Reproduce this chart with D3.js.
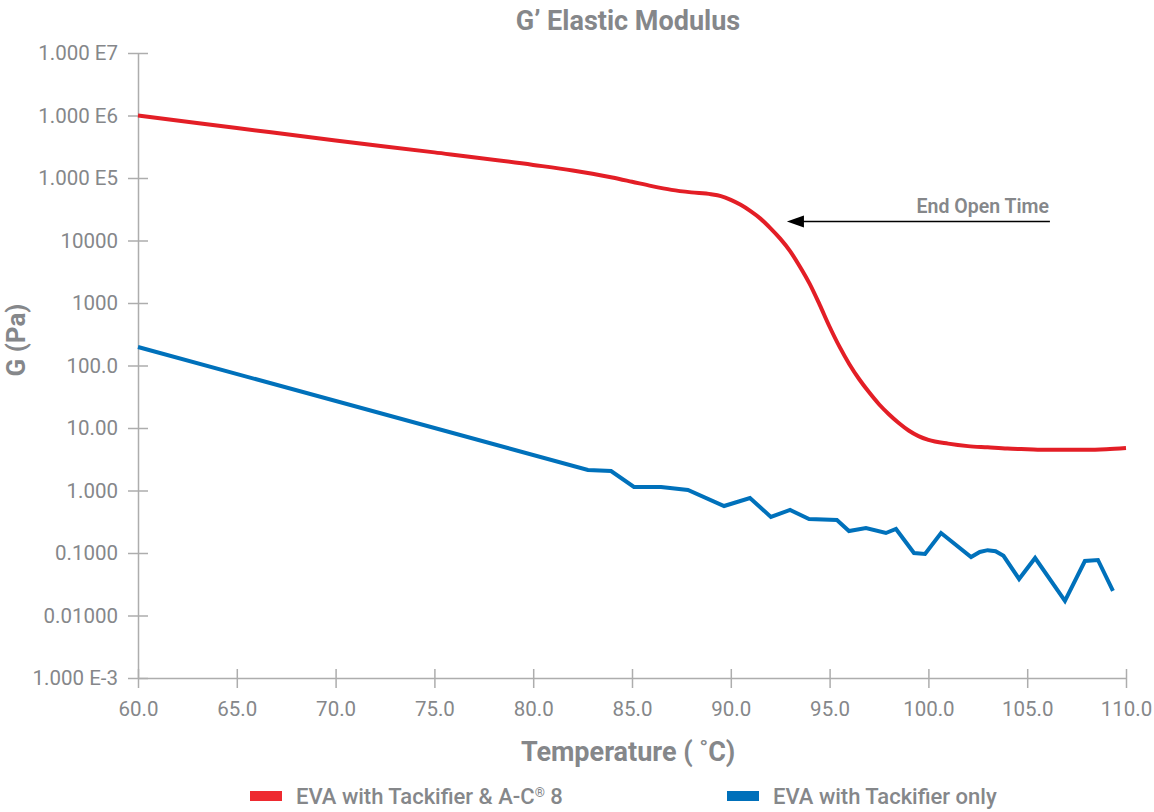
<!DOCTYPE html>
<html>
<head>
<meta charset="utf-8">
<script src="https://cdn.jsdelivr.net/npm/d3@7"></script>
<style>
  html, body { margin: 0; padding: 0; background: #fff; }
  svg { display: block; font-family: Roboto, "Noto Sans", sans-serif; }
</style>
</head>
<body>
<svg id="chart" width="1154" height="812"></svg>
<script>
// ---- data ----
const redTemps = [60, 65, 70, 75, 80, 82, 83, 84, 85, 86, 87, 88, 89, 89.5, 90, 90.5, 91, 91.5, 92, 92.5, 93, 93.5, 94, 94.5, 95, 95.5, 96, 96.5, 97, 97.5, 98, 98.5, 99, 99.5, 100, 101, 102, 103, 104, 105, 106, 107, 108, 109, 110];
const redValues = [1000000, 631000, 398000, 257000, 162000, 132000, 117000, 102000, 87100, 74100, 64600, 58900, 55000, 51300, 44700, 37200, 29500, 22400, 15800, 10700, 6760, 3800, 2000, 933, 417, 200, 105, 60.3, 37.2, 24.0, 16.6, 12.0, 9.12, 7.41, 6.46, 5.62, 5.13, 4.90, 4.68, 4.57, 4.47, 4.47, 4.47, 4.57, 4.79];

const blueTemps = [60, 82.77, 83.94, 85.10, 86.47, 87.83, 89.66, 90.97, 92.03, 93.0, 93.96, 95.37, 95.98, 96.84, 97.85, 98.36, 99.27, 99.83, 100.64, 102.16, 102.6, 103.0, 103.4, 103.8, 104.59, 105.40, 106.91, 107.92, 108.58, 109.34];
const blueValues = [198, 2.13, 2.05, 1.14, 1.14, 1.02, 0.565, 0.759, 0.377, 0.488, 0.350, 0.337, 0.225, 0.251, 0.209, 0.242, 0.100, 0.0964, 0.209, 0.0863, 0.104, 0.111, 0.107, 0.090, 0.0384, 0.0832, 0.0171, 0.0745, 0.0773, 0.0247];

const xTicks = [60, 65, 70, 75, 80, 85, 90, 95, 100, 105, 110];
const xTickLabels = ["60.0", "65.0", "70.0", "75.0", "80.0", "85.0", "90.0", "95.0", "100.0", "105.0", "110.0"];
const yTicks = [1e7, 1e6, 1e5, 1e4, 1e3, 1e2, 1e1, 1, 0.1, 0.01, 0.001];
const yTickLabels = ["1.000 E7", "1.000 E6", "1.000 E5", "10000", "1000", "100.0", "10.00", "1.000", "0.1000", "0.01000", "1.000 E-3"];

const seriesNames = ["EVA with Tackifier & A-C", "EVA with Tackifier only"];
const seriesSup = ["\u00AE", ""];
const seriesTail = [" 8", ""];
const title = "G\u2019 Elastic Modulus";
const xTitle = "Temperature ( \u02DAC)";
const yTitle = "G (Pa)";
const annotationText = "End Open Time";
const annotationFrom = [106.15, 10000];
const annotationTo = [92.84, 10000];

// ---- layout ----
const grey = "#85878a";
const axisGrey = "#adadad";
const red = "#e31e26";
const blue = "#0071bb";
const margin = { left: 138, right: 28, top: 53, bottom: 134 };
const W = 1154, H = 812;

const svg = d3.select("#chart");
const x = d3.scaleLinear().domain([60, 110]).range([margin.left, W - margin.right]);
const y = d3.scaleLog().domain([0.001, 1e7]).range([H - margin.bottom, margin.top]);

// axes
const yAxis = d3.axisLeft(y).tickValues(yTicks)
  .tickFormat((d, i) => yTickLabels[i]).tickSizeInner(10).tickSizeOuter(0).tickPadding(10);
const gy = svg.append("g").attr("transform", `translate(${margin.left},0)`).call(yAxis);
gy.selectAll(".tick line").attr("x2", 10).attr("x1", -10);

const xAxis = d3.axisBottom(x).tickValues(xTicks)
  .tickFormat((d, i) => xTickLabels[i]).tickSizeInner(10).tickSizeOuter(0).tickPadding(13);
const gx = svg.append("g").attr("transform", `translate(0,${H - margin.bottom})`).call(xAxis);
gx.selectAll(".tick line").attr("y1", -9).attr("y2", 10);

[gx, gy].forEach(g => {
  g.select(".domain").attr("stroke", axisGrey).attr("stroke-width", 1.5);
  g.selectAll(".tick line").attr("stroke", axisGrey).attr("stroke-width", 1.5);
  g.selectAll(".tick text").attr("fill", grey).attr("font-size", 20.5)
    .attr("font-family", "Roboto, sans-serif");
});

// lines
const redData = redTemps.map((t, i) => [t, redValues[i]]);
const blueData = blueTemps.map((t, i) => [t, blueValues[i]]);

svg.append("path").datum(redData)
  .attr("fill", "none").attr("stroke", red).attr("stroke-width", 4)
  .attr("stroke-linejoin", "round")
  .attr("d", d3.line().x(d => x(d[0])).y(d => y(d[1])).curve(d3.curveMonotoneX));

svg.append("path").datum(blueData)
  .attr("fill", "none").attr("stroke", blue).attr("stroke-width", 4)
  .attr("stroke-linejoin", "miter")
  .attr("d", d3.line().x(d => x(d[0])).y(d => y(d[1])));

// annotation arrow
const ax1 = x(annotationFrom[0]), ax2 = x(annotationTo[0]);
const ay = y(annotationFrom[1]) - 19;
svg.append("line")
  .attr("x1", ax1).attr("x2", ax2 + 15).attr("y1", ay).attr("y2", ay)
  .attr("stroke", "#000").attr("stroke-width", 1.5);
svg.append("path")
  .attr("d", `M${ax2},${ay} L${ax2 + 17},${ay - 6} L${ax2 + 17},${ay + 6} Z`)
  .attr("fill", "#000");
svg.append("text").attr("x", ax1 - 1).attr("y", ay - 9)
  .attr("text-anchor", "end").attr("fill", grey)
  .attr("font-size", 19.5).attr("font-weight", 600).text(annotationText);

// titles
svg.append("text").attr("x", 628).attr("y", 30).attr("text-anchor", "middle")
  .attr("fill", grey).attr("font-size", 27).attr("font-weight", 700).text(title);

svg.append("text").attr("x", 628).attr("y", 761).attr("text-anchor", "middle")
  .attr("fill", grey).attr("font-size", 27).attr("font-weight", 700).text(xTitle);

svg.append("text").attr("transform", "translate(25,340) rotate(-90)")
  .attr("text-anchor", "middle").attr("fill", grey)
  .attr("font-size", 26).attr("font-weight", 700).text(yTitle);

// legend
const legendX = [250, 727];
const legendColors = ["#ee2a30", "#0070ba"];
seriesNames.forEach((name, i) => {
  svg.append("rect").attr("x", legendX[i]).attr("y", 791).attr("width", 32).attr("height", 10)
    .attr("fill", legendColors[i]);
  const t = svg.append("text").attr("x", legendX[i] + 46).attr("y", 804)
    .attr("fill", grey).attr("font-size", 22).attr("font-weight", 500);
  t.append("tspan").text(name);
  if (seriesSup[i]) t.append("tspan").attr("font-size", 13).attr("dy", -7).text(seriesSup[i]);
  if (seriesTail[i]) t.append("tspan").attr("dy", 7).text(seriesTail[i]);
});
</script>
</body>
</html>
